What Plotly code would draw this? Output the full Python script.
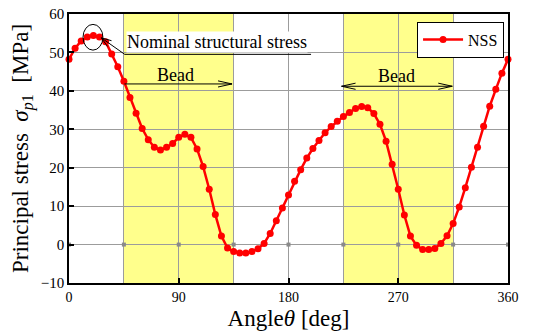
import plotly.graph_objects as go

# ---- data ----
angle_deg = [0, 5, 10, 15, 20, 25, 30, 35, 40, 45, 50, 55, 60, 65, 70, 75, 80, 85, 90,
             95, 100, 105, 110, 115, 120, 125, 130, 135, 140, 145, 150, 155, 160, 165,
             170, 175, 180, 185, 190, 195, 200, 205, 210, 215, 220, 225, 230, 235, 240,
             245, 250, 255, 260, 265, 270, 275, 280, 285, 290, 295, 300, 305, 310, 315,
             320, 325, 330, 335, 340, 345, 350, 355, 360]
nss_mpa = [48.2, 51.1, 53.0, 54.0, 54.4, 54.0, 52.8, 49.6, 46.3, 42.5,
           38.3, 34.2, 30.2, 27.3, 25.3, 24.6, 25.3, 26.3, 27.9, 28.7,
           27.9, 24.9, 20.3, 14.4, 7.8, 2.2, -0.9, -1.8, -2.2, -2.2,
           -1.8, -1.1, 0.3, 2.9, 6.2, 9.5, 12.9, 16.5, 19.5, 22.5,
           25.0, 27.1, 29.1, 30.7, 32.1, 33.3, 34.4, 35.4, 35.9, 35.6,
           34.1, 31.3, 26.9, 20.9, 14.4, 7.7, 2.2, -0.2, -1.3, -1.3,
           -1.0, 0.3, 2.3, 5.5, 9.8, 14.8, 20.1, 25.3, 30.8, 36.0,
           40.4, 44.6, 48.2]
bead_start = [45, 225]
bead_end = [135, 315]
zero_marks = [0, 45, 90, 135, 180, 225, 270, 315, 360]
x_ticks = [0, 90, 180, 270, 360]
y_ticks = [-10, 0, 10, 20, 30, 40, 50, 60]

FONT = "Liberation Serif"
GRID = "#9c9c9c"

fig = go.Figure()

# small gray marks on the zero line
fig.add_trace(go.Scatter(
    x=zero_marks, y=[0] * len(zero_marks), mode="markers",
    marker=dict(symbol="square", size=4, color="#8a8a8a"),
    showlegend=False, hoverinfo="skip", cliponaxis=False))

fig.add_trace(go.Scatter(
    x=angle_deg, y=nss_mpa, mode="lines+markers", name="NSS",
    line=dict(color="#ff0000", width=2.5),
    marker=dict(color="#ff0000", size=7),
    cliponaxis=False))

BLK = dict(color="black", width=1)
shapes = []
for s, e in zip(bead_start, bead_end):
    shapes.append(dict(type="rect", xref="x", yref="paper", x0=s, x1=e, y0=0, y1=1,
                       fillcolor="#ffff8c", line=dict(width=0), layer="below"))
# ellipse around the nominal structural stress peak
shapes.append(dict(type="circle", xref="x", yref="y", x0=11.5, x1=27.8, y0=50.6, y1=57.3,
                   line=BLK))
# leader line + underline of the label, with open arrow head
shapes.append(dict(type="path", xref="x", yref="y",
                   path="M 198.5,49.5 L 45.7,49.5 L 26.5,53.8", line=BLK))
shapes.append(dict(type="path", xref="x", yref="y",
                   path="M 34.85,53.05 L 26.5,53.8 L 31.56,51.56", line=BLK))
# Bead arrow 1 (right head)
shapes.append(dict(type="line", xref="x", yref="y", x0=45.5, x1=133.7, y0=41.8, y1=41.8,
                   line=BLK))
shapes.append(dict(type="path", xref="x", yref="y",
                   path="M 122.2,42.6 L 133.7,41.8 L 122.2,41.0", line=BLK))
# Bead arrow 2 (both heads)
shapes.append(dict(type="line", xref="x", yref="y", x0=223.5, x1=314.3, y0=41.2, y1=41.2,
                   line=BLK))
shapes.append(dict(type="path", xref="x", yref="y",
                   path="M 302.8,42.0 L 314.3,41.2 L 302.8,40.4", line=BLK))
shapes.append(dict(type="path", xref="x", yref="y",
                   path="M 235.0,42.0 L 223.5,41.2 L 235.0,40.4", line=BLK))

annotations = [
    dict(x=47.0, y=49.85, xref="x", yref="y", xanchor="left", yanchor="bottom",
         text="Nominal structural stress",
         showarrow=False, font=dict(family=FONT, size=18, color="black"),
         bgcolor="white", borderpad=0),
    dict(x=87.5, y=44.2, xref="x", yref="y", text="Bead", showarrow=False,
         font=dict(family=FONT, size=18, color="black")),
    dict(x=268.6, y=43.8, xref="x", yref="y", text="Bead", showarrow=False,
         font=dict(family=FONT, size=18, color="black")),
]

fig.update_layout(
    width=535, height=331,
    margin=dict(l=69, r=27, t=14, b=48),
    paper_bgcolor="white", plot_bgcolor="white",
    font=dict(family=FONT, size=15, color="black"),
    shapes=shapes, annotations=annotations,
    showlegend=True,
    legend=dict(x=0.991, y=0.972, xanchor="right", yanchor="top",
                bgcolor="white", bordercolor="black", borderwidth=1,
                font=dict(family=FONT, size=16, color="black"),
                itemwidth=40, tracegroupgap=0),
    xaxis=dict(range=[0, 360], tickvals=x_ticks, ticks="inside", ticklen=5,
               tickcolor="black", tickwidth=1.5, automargin=False,
               showline=True, linecolor="black", linewidth=1.5, mirror=True,
               showgrid=True, gridcolor=GRID, gridwidth=1, zeroline=False,
               minor=dict(dtick=45, tick0=0, showgrid=True, gridcolor=GRID, gridwidth=1),
               tickfont=dict(family=FONT, size=14),
               title=dict(text="Angle<i>θ</i> [deg]", font=dict(family=FONT, size=23),
                          standoff=6)),
    yaxis=dict(range=[-10, 60], tickvals=y_ticks, ticks="inside", ticklen=5,
               tickcolor="black", tickwidth=1.5, automargin=False,
               showline=True, linecolor="black", linewidth=1.5, mirror=True,
               showgrid=True, gridcolor=GRID, gridwidth=1, zeroline=False,
               tickfont=dict(family=FONT, size=15),
               title=dict(text="Principal stress &nbsp;<i>σ</i><sub><i>p</i>1</sub> &nbsp;[MPa]",
                          font=dict(family=FONT, size=23), standoff=6)),
)

fig.write_html("out.html")
